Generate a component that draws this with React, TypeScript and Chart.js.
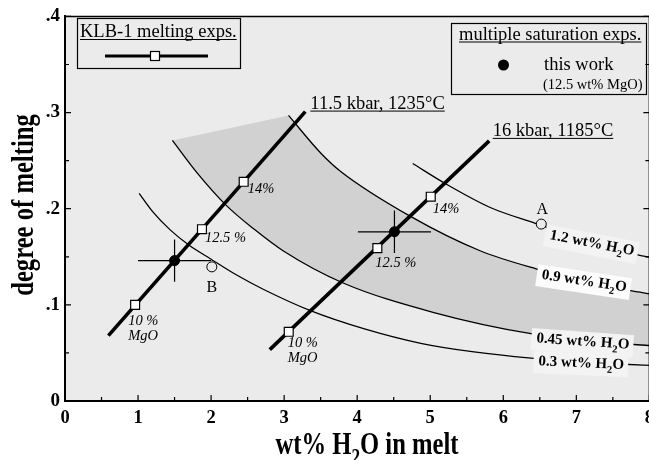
import React, { useEffect, useRef } from 'react';
import { Chart, registerables } from 'chart.js';

Chart.register(...registerables);

const SERIF = '"Liberation Serif", "Times New Roman", Times, serif';
const PLOT_BG = '#ebebeb';
const SHADE = '#d1d1d1';

// ---- axes ----
const xTickValues = [0, 1, 2, 3, 4, 5, 6, 7, 8];
const xTickLabels = ['0', '1', '2', '3', '4', '5', '6', '7', '8'];
const yTickValues = [0, 0.1, 0.2, 0.3, 0.4];
const yTickLabels = ['0', '.1', '.2', '.3', '.4'];
const xMinorStep = 0.5;
const yMinorStep = 0.05;

// ---- iso-H2O curves (wt% H2O in source) ----
const curveNames = ['1.2', '0.9', '0.45', '0.3'];
const c12X = [4.76, 5.21, 5.83, 6.47, 7.2, 7.9, 8.05];
const c12Y = [0.247, 0.226, 0.201, 0.184, 0.165, 0.151, 0.149];
const c09X = [3.06, 3.5, 3.77, 4.73, 5.69, 6.45, 7.1, 7.72, 8.05];
const c09Y = [0.297, 0.258, 0.239, 0.192, 0.156, 0.1375, 0.125, 0.115, 0.111];
const c045X = [1.47, 1.8, 2.2, 2.6, 2.99, 3.8, 5.05, 6.38, 7.1, 7.75, 8.05];
const c045Y = [0.271, 0.238, 0.204, 0.178, 0.156, 0.123, 0.092, 0.07, 0.0635, 0.059, 0.0575];
const c03X = [1.015, 1.2, 1.44, 1.7, 1.99, 2.35, 2.72, 3.36, 4.1, 4.87, 5.6, 6.38, 7.0, 7.65, 8.05];
const c03Y = [0.216, 0.197, 0.178, 0.162, 0.148, 0.131, 0.116, 0.094, 0.075, 0.06, 0.051, 0.0445, 0.041, 0.0382, 0.037];

// ---- KLB-1 melting trends ----
const lineNames = ['11.5 kbar, 1235°C', '16 kbar, 1185°C'];
const l115X = [0.594, 3.29];
const l115Y = [0.068, 0.301];
const l16X = [2.803, 5.807];
const l16Y = [0.0534, 0.2705];
const sq115X = [0.96, 1.875, 2.446];
const sq115Y = [0.1, 0.1787, 0.228];
const sq16X = [3.063, 4.276, 5.007];
const sq16Y = [0.072, 0.159, 0.2125];
const sqLabels = [['10 %', 'MgO'], ['12.5 %'], ['14%']];

// ---- multiple saturation exps. (this work) ----
const dotX = [1.5, 4.51];
const dotY = [0.146, 0.176];
const dotErrX = [0.5, 0.5];
const dotErrY = [0.022, 0.022];

// ---- other points ----
const openX = [6.52, 2.01];
const openY = [0.184, 0.1395];
const openLabels = ['A', 'B'];

const pts = (xs: number[], ys: number[]) => xs.map((x, i) => ({ x, y: ys[i] }));

const lineDs = (data: any[], width: number, smooth = false) => ({
  data,
  showLine: true,
  borderColor: '#000',
  borderWidth: width,
  pointRadius: 0,
  pointHoverRadius: 0,
  fill: false,
  cubicInterpolationMode: smooth ? 'monotone' : 'default',
});

function setFont(ctx: CanvasRenderingContext2D, size: number, weight = 'normal', style = 'normal') {
  ctx.font = `${style} ${weight} ${size}px ${SERIF}`;
}

type Part = { t: string; sub?: boolean };
function richWidth(ctx: CanvasRenderingContext2D, parts: Part[], size: number, weight = 'normal', style = 'normal') {
  let w = 0;
  for (const p of parts) {
    setFont(ctx, p.sub ? size * 0.7 : size, weight, style);
    w += ctx.measureText(p.t).width;
  }
  return w;
}
function drawRich(ctx: CanvasRenderingContext2D, parts: Part[], x: number, y: number, size: number, weight = 'normal', style = 'normal') {
  let cx = x;
  for (const p of parts) {
    const s = p.sub ? size * 0.7 : size;
    setFont(ctx, s, weight, style);
    ctx.fillText(p.t, cx, y + (p.sub ? size * 0.3 : 0));
    cx += ctx.measureText(p.t).width;
  }
  return cx - x;
}
function drawUnderlined(ctx: CanvasRenderingContext2D, text: string, x: number, y: number, size: number) {
  setFont(ctx, size);
  ctx.textAlign = 'left';
  ctx.fillText(text, x, y);
  const w = ctx.measureText(text).width;
  ctx.beginPath();
  ctx.lineWidth = 1;
  ctx.moveTo(x, y + 2.5);
  ctx.lineTo(x + w, y + 2.5);
  ctx.stroke();
}

export default function App() {
  const ref = useRef<HTMLCanvasElement>(null);

  useEffect(() => {
    const canvas = ref.current;
    if (!canvas) return;

    const datasets: any[] = [];
    datasets.push({ data: pts(sq115X, sq115Y), showLine: false, pointStyle: 'rect', pointRadius: 6.3, backgroundColor: '#fff', borderColor: '#000', borderWidth: 1.2 });
    datasets.push({ data: pts(sq16X, sq16Y), showLine: false, pointStyle: 'rect', pointRadius: 6.3, backgroundColor: '#fff', borderColor: '#000', borderWidth: 1.2 });
    datasets.push({ data: pts(dotX, dotY), showLine: false, pointStyle: 'circle', pointRadius: 5, backgroundColor: '#000', borderColor: '#000', borderWidth: 1 });
    datasets.push({ data: pts(openX, openY), showLine: false, pointStyle: 'circle', pointRadius: 5, backgroundColor: PLOT_BG, borderColor: '#000', borderWidth: 1 });
    dotX.forEach((x, i) => {
      datasets.push(lineDs([{ x: x - dotErrX[i], y: dotY[i] }, { x: x + dotErrX[i], y: dotY[i] }], 1.2));
      datasets.push(lineDs([{ x, y: dotY[i] - dotErrY[i] }, { x, y: dotY[i] + dotErrY[i] }], 1.2));
    });
    datasets.push(lineDs(pts(l115X, l115Y), 3.6));
    datasets.push(lineDs(pts(l16X, l16Y), 3.6));
    const CURVE = datasets.length;
    datasets.push(lineDs(pts(c12X, c12Y), 1.3, true));
    datasets.push(lineDs(pts(c09X, c09Y), 1.3, true));
    datasets.push(lineDs(pts(c045X, c045Y), 1.3, true));
    datasets.push(lineDs(pts(c03X, c03Y), 1.3, true));

    const sqLabelOffsets = [
      [[[-7, 20], [-7, 35]], [[3, 13]], [[4, 11]]],
      [[[-1, 15], [-1, 30]], [[-2, 19]], [[2, 16]]],
    ];
    const curveLabelPos = [
      { x: 6.63, y: 0.1685, ang: 11 },
      { x: 6.52, y: 0.1271, ang: 8.5 },
      { x: 6.45, y: 0.061, ang: 4 },
      { x: 6.48, y: 0.0372, ang: 2.5 },
    ];

    const decor = {
      id: 'decor',
      beforeDraw(chart: any) {
        const { ctx, chartArea: a, width, height } = chart;
        ctx.save();
        ctx.fillStyle = '#fff';
        ctx.fillRect(0, 0, width, height);
        ctx.fillStyle = PLOT_BG;
        ctx.fillRect(a.left, a.top, a.right - a.left, a.bottom - a.top);
        ctx.restore();
      },
      beforeDatasetsDraw(chart: any) {
        const { ctx, chartArea: a } = chart;
        const l45 = chart.getDatasetMeta(CURVE + 2).dataset;
        const l09 = chart.getDatasetMeta(CURVE + 1).dataset;
        ctx.save();
        ctx.beginPath();
        ctx.rect(a.left, a.top, a.right - a.left, a.bottom - a.top);
        ctx.clip();
        ctx.beginPath();
        if (l45 && l09 && l45.pathSegment && l45.segments.length && l09.segments.length) {
          l45.updateControlPoints(a, 'x');
          l09.updateControlPoints(a, 'x');
          l45.pathSegment(ctx, l45.segments[0], { move: true });
          l09.pathSegment(ctx, l09.segments[0], { move: false, reverse: true });
        } else {
          const xs = chart.scales.x, ys = chart.scales.y;
          c045X.forEach((x, i) => ctx.lineTo(xs.getPixelForValue(x), ys.getPixelForValue(c045Y[i])));
          for (let i = c09X.length - 1; i >= 0; i--) ctx.lineTo(xs.getPixelForValue(c09X[i]), ys.getPixelForValue(c09Y[i]));
        }
        ctx.closePath();
        ctx.fillStyle = SHADE;
        ctx.fill();
        ctx.restore();
      },
      afterDatasetDraw(chart: any, args: any) {
        if (args.index !== CURVE) return;
        const { ctx } = chart;
        const xs = chart.scales.x, ys = chart.scales.y;
        ctx.save();
        curveNames.forEach((n, i) => {
          const p = curveLabelPos[i];
          const parts: Part[] = [{ t: `${n} wt% H` }, { t: '2', sub: true }, { t: 'O' }];
          ctx.save();
          ctx.translate(xs.getPixelForValue(p.x), ys.getPixelForValue(p.y));
          ctx.rotate((p.ang * Math.PI) / 180);
          const w = richWidth(ctx, parts, 15, 'bold');
          ctx.fillStyle = i === 1 ? '#fcfcfc' : '#f3f3f3';
          ctx.fillRect(-5, -14, w + 9, 22);
          ctx.fillStyle = '#000';
          ctx.textAlign = 'left';
          ctx.textBaseline = 'alphabetic';
          drawRich(ctx, parts, 0, 0, 15, 'bold');
          ctx.restore();
        });
        ctx.restore();
      },
      afterDatasetsDraw(chart: any) {
        const { ctx, chartArea: a } = chart;
        const xs = chart.scales.x, ys = chart.scales.y;
        ctx.save();
        ctx.strokeStyle = '#000';
        ctx.fillStyle = '#000';
        // frame: top and right
        ctx.lineWidth = 1.5;
        ctx.beginPath();
        ctx.moveTo(a.left, a.top);
        ctx.lineTo(a.right, a.top);
        ctx.lineTo(a.right, a.bottom);
        ctx.stroke();
        // inward ticks
        ctx.lineWidth = 1.2;
        ctx.beginPath();
        for (let k = 0; k <= Math.round(8 / xMinorStep); k++) {
          const v = k * xMinorStep;
          const px = xs.getPixelForValue(v);
          const len = k % 2 === 0 ? 6 : 4;
          ctx.moveTo(px, a.bottom);
          ctx.lineTo(px, a.bottom - len);
        }
        for (let k = 0; k <= Math.round(0.4 / yMinorStep); k++) {
          const v = k * yMinorStep;
          const py = ys.getPixelForValue(v);
          const len = k % 2 === 0 ? 6 : 4;
          ctx.moveTo(a.left, py);
          ctx.lineTo(a.left + len, py);
          ctx.moveTo(a.right, py);
          ctx.lineTo(a.right - len, py);
        }
        ctx.stroke();

        ctx.textBaseline = 'alphabetic';
        // line labels
        const ends = [
          [l115X[1], l115Y[1], 5, -3],
          [l16X[1], l16Y[1], 3.5, -5],
        ];
        lineNames.forEach((n, i) => {
          const [x, y, dx, dy] = ends[i];
          drawUnderlined(ctx, n, xs.getPixelForValue(x) + dx, ys.getPixelForValue(y) + dy, 18.5);
        });
        // square labels
        [[sq115X, sq115Y], [sq16X, sq16Y]].forEach(([sx, sy], s) => {
          sx.forEach((x, i) => {
            const px = xs.getPixelForValue(x), py = ys.getPixelForValue(sy[i]);
            sqLabels[i].forEach((t, j) => {
              const [dx, dy] = sqLabelOffsets[s][i][j];
              setFont(ctx, 14.5, 'normal', 'italic');
              ctx.textAlign = 'left';
              ctx.fillText(t, px + dx, py + dy);
            });
          });
        });
        // A / B
        const abOff = [[1, -10], [0, 25]];
        openLabels.forEach((t, i) => {
          setFont(ctx, 16);
          ctx.textAlign = 'center';
          ctx.fillText(t, xs.getPixelForValue(openX[i]) + abOff[i][0], ys.getPixelForValue(openY[i]) + abOff[i][1]);
        });
        ctx.restore();
      },
      afterDraw(chart: any) {
        const { ctx } = chart;
        ctx.save();
        ctx.strokeStyle = '#000';
        ctx.fillStyle = '#000';
        ctx.textBaseline = 'alphabetic';
        // legend 1
        ctx.lineWidth = 1.2;
        ctx.strokeRect(77.5, 18.5, 163, 50);
        drawUnderlined(ctx, 'KLB-1 melting exps.', 80, 37, 18.5);
        ctx.lineWidth = 3;
        ctx.beginPath();
        ctx.moveTo(105, 56);
        ctx.lineTo(208, 56);
        ctx.stroke();
        ctx.fillStyle = '#fff';
        ctx.lineWidth = 1.2;
        ctx.fillRect(150.5, 51.5, 9, 9);
        ctx.strokeRect(150.5, 51.5, 9, 9);
        ctx.fillStyle = '#000';
        // legend 2
        ctx.strokeRect(451.5, 23.5, 195, 71);
        drawUnderlined(ctx, 'multiple saturation exps.', 459, 39.5, 18.5);
        ctx.beginPath();
        ctx.arc(503.5, 65, 5.5, 0, Math.PI * 2);
        ctx.fill();
        setFont(ctx, 18.5);
        ctx.textAlign = 'left';
        ctx.fillText('this work', 544, 70);
        setFont(ctx, 14.5);
        ctx.fillText('(12.5 wt% MgO)', 543, 89);

        // axis titles
        const sc = 0.77;
        const fs = 32;
        const xParts: Part[] = [{ t: 'wt% H' }, { t: '2', sub: true }, { t: 'O in melt' }];
        ctx.save();
        ctx.translate(367, 454);
        ctx.scale(sc, 1);
        const wx = richWidth(ctx, xParts, fs, 'bold');
        drawRich(ctx, xParts, -wx / 2, 0, fs, 'bold');
        ctx.restore();
        const yParts: Part[] = [{ t: 'degree of melting' }];
        ctx.save();
        ctx.translate(33, 205);
        ctx.rotate(-Math.PI / 2);
        ctx.scale(sc, 1);
        const wy = richWidth(ctx, yParts, fs, 'bold');
        drawRich(ctx, yParts, -wy / 2, 0, fs, 'bold');
        ctx.restore();
        ctx.restore();
      },
    };

    const chart = new Chart(canvas, {
      type: 'scatter',
      data: { datasets },
      options: {
        responsive: false,
        animation: false,
        devicePixelRatio: 1,
        events: [],
        layout: { padding: { left: 0, top: 14, right: 10.5, bottom: 0 } },
        plugins: { legend: { display: false }, tooltip: { enabled: false } },
        scales: {
          x: {
            type: 'linear',
            min: 0,
            max: 8,
            afterFit: (s: any) => { s.height = 59; },
            afterBuildTicks: (s: any) => { s.ticks = xTickValues.map((v) => ({ value: v })); },
            grid: { display: false, drawTicks: false },
            border: { display: true, color: '#000', width: 2 },
            ticks: {
              color: '#000',
              padding: 6,
              maxRotation: 0,
              autoSkip: false,
              font: { family: SERIF, size: 18.5, weight: 'bold' },
              callback: (_v: any, i: number) => xTickLabels[i],
            },
          },
          y: {
            type: 'linear',
            min: 0,
            max: 0.4,
            afterFit: (s: any) => { s.width = 65; },
            afterBuildTicks: (s: any) => { s.ticks = yTickValues.map((v) => ({ value: v })); },
            grid: { display: false, drawTicks: false },
            border: { display: true, color: '#000', width: 2 },
            ticks: {
              color: '#000',
              padding: 5,
              autoSkip: false,
              font: { family: SERIF, size: 19, weight: 'bold' },
              callback: (_v: any, i: number) => yTickLabels[i],
            },
          },
        },
      },
      plugins: [decor],
    } as any);

    return () => chart.destroy();
  }, []);

  return (
    <div style={{ position: 'fixed', left: 0, top: 0, width: 649, height: 460, overflow: 'hidden', background: '#fff' }}>
      <canvas ref={ref} width={660} height={460} style={{ display: 'block', width: 660, height: 460 }} />
    </div>
  );
}
